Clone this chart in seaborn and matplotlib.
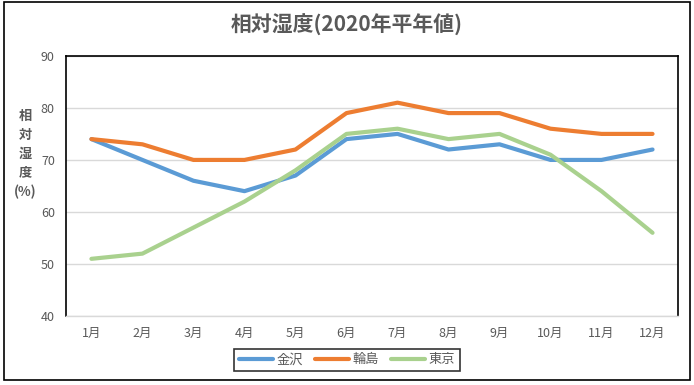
import pandas as pd
import seaborn as sns
import matplotlib.pyplot as plt
from matplotlib.patches import Rectangle

months = ["1月", "2月", "3月", "4月", "5月", "6月", "7月", "8月", "9月", "10月", "11月", "12月"]
kanazawa = [74, 70, 66, 64, 67, 74, 75, 72, 73, 70, 70, 72]
wajima = [74, 73, 70, 70, 72, 79, 81, 79, 79, 76, 75, 75]
tokyo = [51, 52, 57, 62, 68, 75, 76, 74, 75, 71, 64, 56]
cities = ["金沢", "輪島", "東京"]
colors = ["#5B9BD5", "#ED7D31", "#A9D18E"]

df = pd.DataFrame({"月": months * 3,
                   "都市": [c for c in cities for _ in months],
                   "湿度": kanazawa + wajima + tokyo})

sns.set_style("white")
plt.rcParams["font.family"] = ["Noto Sans CJK JP", "DejaVu Sans"]
text_color = "#595959"

fig = plt.figure(figsize=(6.94, 3.85), dpi=100)
ax = fig.add_axes([0.095, 0.179, 0.882, 0.676])

sns.lineplot(data=df, x="月", y="湿度", hue="都市", palette=colors,
             linewidth=3, sort=False, ax=ax)

ax.set_xlim(-0.5, 11.5)
ax.set_ylim(40, 90)
ax.set_yticks(range(40, 91, 10))
ax.grid(axis="y", color="#D9D9D9", linewidth=1)
ax.set_axisbelow(True)
ax.set_xlabel("")
ax.set_ylabel("")
ax.tick_params(length=0, labelsize=9, colors=text_color, pad=8)
for s in ["left", "top", "right"]:
    ax.spines[s].set_color("black")
    ax.spines[s].set_linewidth(1.2)
ax.spines["bottom"].set_color("#D9D9D9")
ax.spines["bottom"].set_linewidth(1)

fig.text(0.5, 0.935, "相対湿度(2020年平年値)", ha="center", va="center",
         fontsize=15, fontweight="bold", color=text_color)
fig.text(0.036, 0.60, "相\n対\n湿\n度\n(%)", ha="center", va="center",
         fontsize=9.5, fontweight="bold", color=text_color, linespacing=1.45)

handles, labels = ax.get_legend_handles_labels()
ax.legend_.remove()
leg = fig.legend(handles, labels, loc="center", bbox_to_anchor=(0.5, 0.065),
                 ncol=3, frameon=True, fancybox=False, fontsize=9.5,
                 handlelength=2.6, handletextpad=0.25, columnspacing=0.9,
                 borderpad=0.35, labelcolor=text_color)
leg.get_frame().set_edgecolor("black")
leg.get_frame().set_linewidth(1.2)
for line in leg.get_lines():
    line.set_linewidth(3)

fig.patches.append(Rectangle((0.006, 0.012), 0.988, 0.982, transform=fig.transFigure,
                             fill=False, edgecolor="black", linewidth=1.2))

fig.savefig("out.png", dpi=100)
